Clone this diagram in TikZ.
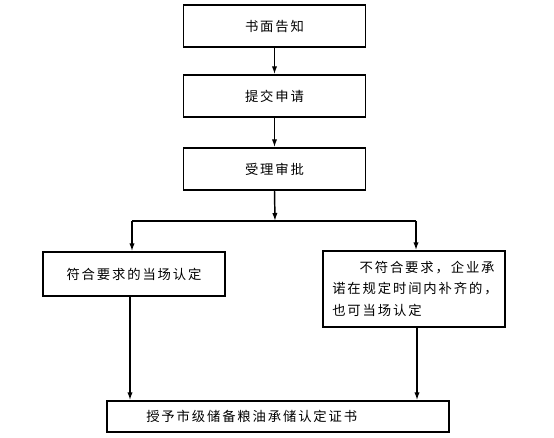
\documentclass[tikz,border=0pt]{standalone}
\usepackage{fontspec}
\usetikzlibrary{arrows.meta}
\newfontfamily\cjk[LetterSpace=14]{Noto Sans CJK SC}
\begin{document}
\begin{tikzpicture}[x=0.75pt,y=-0.75pt,
  box/.style={draw,line width=1.1pt,inner sep=0pt,font=\cjk\fontsize{10}{16}\selectfont},
  conn/.style={line width=1.1pt},
  arr/.style={conn,-{Latex[length=6pt,width=4pt]}}]
\useasboundingbox (0,0) rectangle (554,438);
\node[box,minimum width=136.5pt,minimum height=31.5pt] (b1) at (274.5,26) {书面告知};
\node[box,minimum width=136.5pt,minimum height=31.5pt] (b2) at (274.5,96) {提交申请};
\node[box,minimum width=136.5pt,minimum height=31.5pt] (b3) at (274.5,169) {受理审批};
\node[box,minimum width=136.5pt,minimum height=33pt] (l) at (134,274) {符合要求的当场认定};
\node[box,minimum width=136.5pt,minimum height=57pt] (r) at (414,289) {};
\node[font=\cjk\fontsize{10}{16}\selectfont,align=left,anchor=north west,inner sep=0pt] (rt) at (332,261)
  {\hspace*{2.05em}不符合要求，企业承\\诺在规定时间内补齐的，\\也可当场认定};
\node[box,minimum width=256.5pt,minimum height=23.25pt] (bot) at (278,416.5) {};
\node[font=\cjk\fontsize{10}{16}\selectfont,anchor=west,inner sep=0pt] (bt) at (146,416.5) {授予市级储备粮油承储认定证书};
\coordinate (split) at (275,221);
\coordinate (sl) at (132,221);
\coordinate (sr) at (416,221);
\draw[arr] (b1) -- (b2);
\draw[arr] (b2) -- (b3);
\draw[arr] (b3.south) -- (split);
\draw[conn] (sl) -- (sr);
\draw[arr] (sl) -- (sl |- l.north);
\draw[arr] (sr) -- (sr |- r.north);
\draw[arr] (l.south -| 130,0) -- (130,0 |- bot.north);
\draw[arr] (r.south -| 417,0) -- (417,0 |- bot.north);
\end{tikzpicture}
\end{document}
